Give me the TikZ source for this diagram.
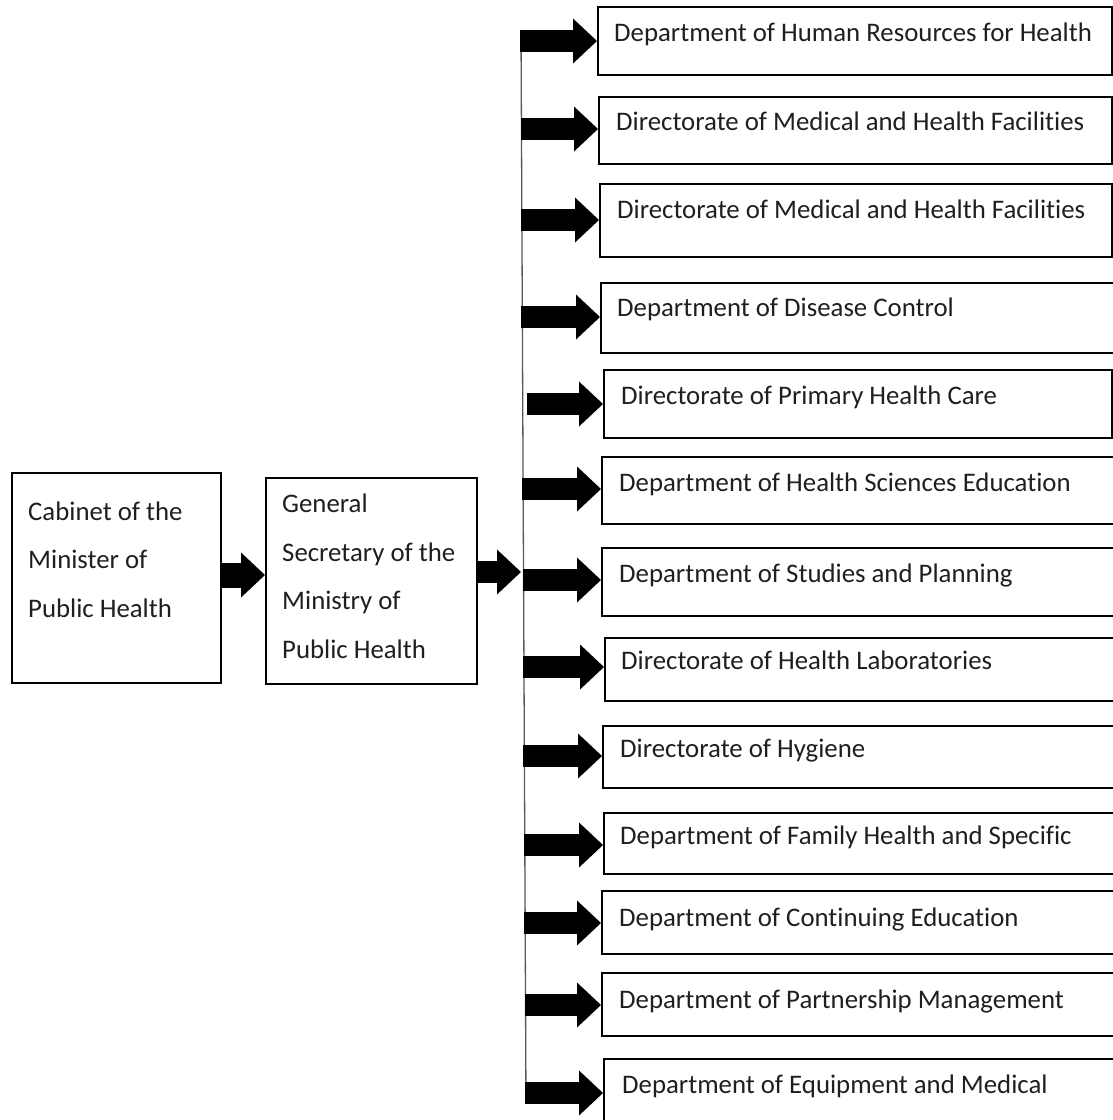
\documentclass[tikz,border=0pt]{standalone}
\usepackage{fontspec}
\setmainfont{Carlito}[Ligatures={NoCommon}]
\usetikzlibrary{arrows.meta}
\begin{document}
\begin{tikzpicture}[x=1pt,y=-1pt,
  box/.style={draw=black, line width=2pt, rectangle, inner sep=0pt, anchor=north west},
  lbl/.style={inner sep=0pt, anchor=base west, font=\fontsize{26.8}{48.7}\selectfont, text=black!88},
  multilbl/.style={inner sep=0pt, anchor=north west, align=left, font=\fontsize{26.8}{48.7}\selectfont, text=black!88},
  blockarrow/.style={line width=22pt, -{Triangle[length=24pt,width=45pt,line width=0pt]}},
  trunkline/.style={draw=black!65, line width=1.3pt}]
\useasboundingbox[fill=white] (0,0) rectangle (1113,1120);

% left-hand boxes
\node[box, minimum width=209, minimum height=210] (cab) at (11,472) {};
\node[multilbl] (cabtext) at (28,486) {\strut Cabinet of the\\Minister of\\Public Health};
\node[box, minimum width=211, minimum height=206] (gen) at (265,477) {};
\node[multilbl] (gentext) at (282,478) {\strut General\\Secretary of the\\Ministry of\\Public Health};

% distribution trunk
\coordinate (trunktop) at (521,30);
\coordinate (trunkbot) at (526,1103);
\draw[trunkline] (trunktop) -- (trunkbot);

% right-hand boxes
\node[box, minimum width=514, minimum height=68] (r1) at (597,6) {};
\node[box, minimum width=513, minimum height=67] (r2) at (598,96) {};
\node[box, minimum width=512, minimum height=73] (r3) at (599,183) {};
\node[box, minimum width=520, minimum height=70] (r4) at (600,282) {};
\node[box, minimum width=508, minimum height=68] (r5) at (603,369) {};
\node[box, minimum width=519, minimum height=67] (r6) at (601,456) {};
\node[box, minimum width=519, minimum height=68] (r7) at (601,547) {};
\node[box, minimum width=516, minimum height=63] (r8) at (604,637) {};
\node[box, minimum width=518, minimum height=62] (r9) at (602,725) {};
\node[box, minimum width=517, minimum height=61] (r10) at (603,812) {};
\node[box, minimum width=519, minimum height=63] (r11) at (601,890) {};
\node[box, minimum width=519, minimum height=63] (r12) at (601,972) {};
\node[box, minimum width=517, minimum height=70] (r13) at (603,1058) {};

\node[lbl] (t1) at (614,41.5) {Department of Human Resources for Health};
\node[lbl] (t2) at (616,130.5) {Directorate of Medical and Health Facilities};
\node[lbl] (t3) at (617,218.5) {Directorate of Medical and Health Facilities};
\node[lbl] (t4) at (617,316.5) {Department of Disease Control};
\node[lbl] (t5) at (621,404.5) {Directorate of Primary Health Care};
\node[lbl] (t6) at (619,491.5) {Department of Health Sciences Education};
\node[lbl] (t7) at (619,582.5) {Department of Studies and Planning};
\node[lbl] (t8) at (621,669.5) {Directorate of Health Laboratories};
\node[lbl] (t9) at (620,757.5) {Directorate of Hygiene};
\node[lbl] (t10) at (620,844.5) {Department of Family Health and Specific};
\node[lbl] (t11) at (619,926.5) {Department of Continuing Education};
\node[lbl] (t12) at (619,1008.5) {Department of Partnership Management};
\node[lbl] (t13) at (622,1093.5) {Department of Equipment and Medical};

% branch starts on the trunk
\coordinate (a1) at (520,41);
\coordinate (a2) at (520.5,129);
\coordinate (a3) at (521,220);
\coordinate (a4) at (521.3,317);
\coordinate (a5) at (527,404);
\coordinate (a6) at (522,489);
\coordinate (a7) at (522.5,580);
\coordinate (a8) at (523,667);
\coordinate (a9) at (523.4,756);
\coordinate (a10) at (523.8,845);
\coordinate (a11) at (524.2,923);
\coordinate (a12) at (524.5,1005);
\coordinate (a13) at (525,1093);

\draw[blockarrow] (a1) -- (a1 -| r1.west);
\draw[blockarrow] (a2) -- (a2 -| r2.west);
\draw[blockarrow] (a3) -- (a3 -| r3.west);
\draw[blockarrow] (a4) -- (a4 -| r4.west);
\draw[blockarrow] (a5) -- (a5 -| r5.west);
\draw[blockarrow] (a6) -- (a6 -| r6.west);
\draw[blockarrow] (a7) -- (a7 -| r7.west);
\draw[blockarrow] (a8) -- (a8 -| r8.west);
\draw[blockarrow] (a9) -- (a9 -| r9.west);
\draw[blockarrow] (a10) -- (a10 -| r10.west);
\draw[blockarrow] (a11) -- (a11 -| r11.west);
\draw[blockarrow] (a12) -- (a12 -| r12.west);
\draw[blockarrow] (a13) -- (a13 -| r13.west);

% arrows between the left-hand boxes and into the trunk
\coordinate (c1) at (0,575);
\coordinate (c2) at (0,572);
\draw[blockarrow, line width=25pt] (cab.east |- c1) -- (gen.west |- c1);
\draw[blockarrow] (gen.east |- c2) -- (trunktop |- c2);
\end{tikzpicture}
\end{document}
